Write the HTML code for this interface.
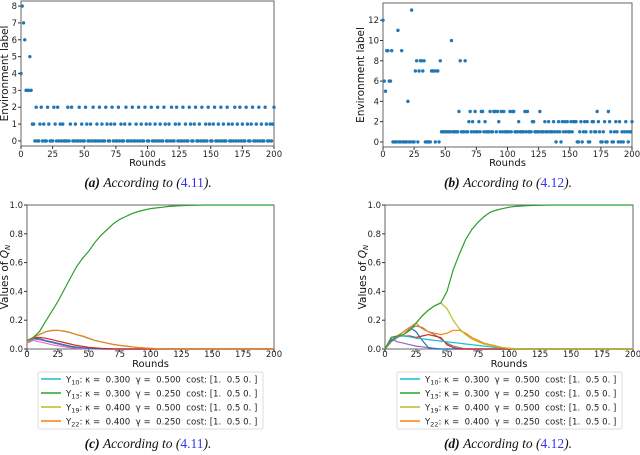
<!DOCTYPE html>
<html><head><meta charset="utf-8"><style>
body{margin:0;background:#fff;}
svg{display:block;font-family:"DejaVu Sans","Liberation Sans",sans-serif;}
.tk{font-size:8.5px;fill:#222;}
.cap{font-family:"Liberation Serif",serif;font-size:13.5px;font-style:italic;}
.lg{font-size:8.6px;fill:#222;white-space:pre;}
</style></head><body>
<svg id="fig" width="640" height="455" viewBox="0 0 640 455"></svg>
<script>
const envA=[4,8,7,6,3,3,3,5,3,1,1,0,2,
0,0,1,2,0,1,0,0,2,1,0,0,0,2,1,0,2,0,1,0,
1,0,0,0,2,0,1,2,0,0,1,0,0,2,0,1,0,0,2,1,
0,0,1,0,2,0,0,1,0,2,0,1,0,0,2,1,0,0,1,2,
0,1,0,0,2,0,1,0,0,1,2,0,0,1,0,2,0,0,1,0,
2,0,1,0,0,2,1,0,0,1,2,0,0,1,0,2,0,1,0,0,
2,1,0,0,1,0,2,0,0,1,2,0,1,0,0,2,0,1,0,0,
2,1,0,0,1,2,0,0,1,0,2,0,0,1,0,2,1,0,0,1,
2,0,0,1,0,2,0,1,0,0,2,1,0,0,1,0,2,0,1,0,
2,0,1,0,0,2,1,0,0,1,2,0,0,1,0,2,0,1,0,0,2,1,0,0,1,0,1,2];
const envB=[12,6,5,9,9,6,6,9,0,0,0,0,11,0,0,9,0,0,0,0,4,0,0,13,0,0,7,8,0,7,8,8,7,8,0,0,0,0,0,7,7,7,0,7,7,0,8,1,1,1,1,1,1,1,1,10,1,1,1,1,1,3,8,1,1,1,8,1,1,2,3,1,2,1,3,
1,1,2,1,3,3,1,2,1,1,1,3,1,1,3,3,1,3,2,1,
3,1,3,1,1,1,1,3,1,3,3,1,1,1,2,1,1,1,1,3,
1,3,1,1,1,2,2,1,1,1,1,3,1,1,1,2,1,1,2,1,
1,1,2,1,0,1,2,1,0,2,1,2,1,2,1,1,2,1,2,2,
2,0,0,1,2,0,1,2,1,2,0,0,1,2,2,1,1,3,2,1,
0,0,1,2,0,0,3,2,1,0,0,1,2,1,0,2,0,1,0,1,2,1,0,1,1,2];
const roundTicks=[0,25,50,75,100,125,150,175,200];
const qTicks=[0,0.2,0.4,0.6,0.8,1.0];
const step=5;
const cGreen=[0.06,0.08,0.12,0.19,0.26,0.33,0.41,0.49,0.57,0.63,0.68,0.74,0.79,0.83,0.87,0.90,0.92,0.94,0.955,0.965,0.975,0.98,0.985,0.99,0.993,0.995,0.997,0.998,0.999,1,1,1,1,1,1,1,1,1,1,1,1];
const cOrange=[0.05,0.08,0.10,0.12,0.13,0.13,0.125,0.115,0.10,0.09,0.075,0.06,0.05,0.04,0.032,0.025,0.02,0.015,0.01,0.007,0.005,0.003,0.002,0.001,0];
const cCyan=[0.05,0.08,0.10,0.12,0.128,0.13,0.123,0.113,0.10,0.088,0.073,0.06,0.05,0.04,0.031,0.025,0.02,0.015,0.01,0.007,0.005,0.003,0.002,0.001,0];
const cRed=[0.05,0.08,0.08,0.075,0.065,0.055,0.045,0.035,0.025,0.018,0.012,0.008,0.005,0.003,0.001,0];
const cBlue=[0.05,0.075,0.07,0.06,0.05,0.04,0.03,0.02,0.013,0.008,0.005,0.003,0.001,0];
const cPink=[0.04,0.06,0.05,0.04,0.03,0.022,0.015,0.01,0.006,0.003,0.001,0];
const cPurple=[0.05,0.07,0.065,0.055,0.045,0.035,0.025,0.017,0.011,0.007,0.004,0.002,0];
const dGreen=[0,0.08,0.09,0.10,0.13,0.18,0.23,0.27,0.30,0.32,0.40,0.55,0.66,0.76,0.83,0.88,0.92,0.95,0.965,0.975,0.985,0.99,0.993,0.995,0.997,0.998,0.999,1,1,1,1,1,1,1,1,1,1,1,1,1,1];
const dYellow=[0,0.08,0.09,0.10,0.13,0.18,0.23,0.27,0.30,0.32,0.28,0.20,0.14,0.10,0.07,0.05,0.035,0.025,0.015,0.01,0.005,0.003,0];
const dOrange=[0,0.08,0.09,0.12,0.15,0.18,0.14,0.12,0.11,0.10,0.11,0.13,0.13,0.11,0.08,0.06,0.04,0.03,0.02,0.01,0.005,0];
const dCyan=[0,0.08,0.09,0.09,0.085,0.075,0.07,0.065,0.06,0.055,0.05,0.045,0.04,0.035,0.03,0.025,0.02,0.015,0.01,0.008,0.005,0.003,0];
const dBlue=[0,0.06,0.09,0.12,0.15,0.12,0.06,0.01,0];
const dRed=[0,0.08,0.09,0.09,0.09,0.08,0.09,0.10,0.09,0.08,0.03,0.01,0];
const dGray=[0,0.05,0.08,0.10,0.14,0.16,0.15,0.12,0.10,0.07,0.04,0.02,0.01,0];
const dPurple=[0,0.07,0.05,0.04,0.03,0.02,0.015,0.01,0.005,0];
const legendKappa=["0.300","0.300","0.400","0.400"];
const legendGamma=["0.500","0.250","0.500","0.250"];
const legendSub=["10","13","19","22"];

const NS="http://www.w3.org/2000/svg";
const svg=document.getElementById('fig');
function mk(tag,attrs,parent){const e=document.createElementNS(NS,tag);for(const k in attrs)e.setAttribute(k,attrs[k]);(parent||svg).appendChild(e);return e;}
function txt(s,attrs,parent){const e=mk('text',attrs,parent);e.textContent=s;return e;}

function axes(name,L,R,T,B,x0,x1,y0,y1){
  const g=mk('g',{});
  
  
  const sx=v=>L+(v-x0)/(x1-x0)*(R-L);
  const sy=v=>B-(v-y0)/(y1-y0)*(B-T);
  return {g,sx,sy,L,R,T,B};
}
function frame(a){
  const r=mk('rect',{x:a.L,y:a.T,width:a.R-a.L,height:a.B-a.T,fill:'none',stroke:'#666','stroke-width':1},a.g);
  
}
function xticks(a,ty){
  roundTicks.forEach(v=>{
    mk('line',{x1:a.sx(v),x2:a.sx(v),y1:a.B,y2:a.B+3,stroke:'#333'},a.g);
    const t=txt(String(v),{x:a.sx(v),y:ty,'text-anchor':'middle',class:'tk'},a.g);
    
  });
}
function yticks(a,vals,fmt){
  vals.forEach(v=>{
    mk('line',{x1:a.L-3,x2:a.L,y1:a.sy(v),y2:a.sy(v),stroke:'#333'},a.g);
    const t=txt(fmt(v),{x:a.L-4,y:a.sy(v)+3,'text-anchor':'end',class:'tk'},a.g);
    
  });
}
function labels(a,xl,ylx,yl,isQ){
  const t=txt('Rounds',{x:(a.L+a.R)/2,y:xl,'text-anchor':'middle','font-size':'10px',fill:'#111'},a.g);
  
  const cy=(a.T+a.B)/2;
  const y=txt('',{x:ylx,y:cy,'text-anchor':'middle','font-size':'10.5px',fill:'#111',transform:`rotate(-90 ${ylx} ${cy})`},a.g);
  
  if(isQ){y.textContent='Values of ';const ts=mk('tspan',{'font-style':'italic'},y);ts.textContent='Q';const sb=mk('tspan',{'font-size':'7px','font-style':'italic',dy:2},y);sb.textContent='N';}
  else y.textContent=yl;
}
function scatter(a,data,name){
  data.forEach((v,i)=>{
    const c=mk('circle',{cx:a.sx(i),cy:a.sy(v),r:1.7,fill:'#1f77b4'},a.g);
    
  });
}
function line(a,data,color,name){
  const pts=[];
  for(let i=0;i<41;i++){const v=i<data.length?data[i]:data[data.length-1];pts.push(a.sx(i*step).toFixed(1)+','+a.sy(v).toFixed(1));}
  const p=mk('polyline',{points:pts.join(' '),fill:'none',stroke:color,'stroke-width':1.2},a.g);
  
}
function legend(x,y,w,name){
  const g=mk('g',{});
  
  mk('rect',{x:x,y:y,width:w,height:57,rx:2,fill:'#fff',stroke:'#ddd'},g);
  const cols=['#17becf','#2ca02c','#bcbd22','#ff7f0e'];
  for(let i=0;i<4;i++){
    const yy=y+7+i*14;
    const l=mk('line',{x1:x+3,x2:x+23,y1:yy,y2:yy,stroke:cols[i],'stroke-width':1.5},g);
    
    const t=txt('',{x:x+28,y:yy+3.5,class:'lg'},g);
    
    const a=mk('tspan',{},t);a.textContent='Y';
    const s=mk('tspan',{'font-size':'6.5px',dy:2},t);s.textContent=legendSub[i];
    const b=mk('tspan',{dy:-2},t);b.textContent=`: κ =  ${legendKappa[i]}  γ =  ${legendGamma[i]}  cost: [1.  0.5 0. ]`;
  }
}
function caption(cx,y,lab,ref,name){
  const t=txt('',{x:cx,y:y,'text-anchor':'middle',class:'cap',fill:'#111'});
  
  const b=mk('tspan',{'font-weight':'bold'},t);b.textContent=lab+' ';
  const m=mk('tspan',{},t);m.textContent='According to (';
  const r=mk('tspan',{fill:'#3333ee','font-style':'normal'},t);r.textContent=ref;
  const e=mk('tspan',{},t);e.textContent=').';
}

const A=axes('panel-a',21,274,1,146,0,200,-0.3,8.3);
frame(A);xticks(A,157);yticks(A,[0,1,2,3,4,5,6,7,8],v=>String(v));
labels(A,166,8,'Environment label',false);scatter(A,envA,'env-point');
caption(148,187,'(a)','4.11','caption-a');
const Bp=axes('panel-b',383,632,3,147,0,200,-0.5,13.7);
frame(Bp);xticks(Bp,157);yticks(Bp,[0,2,4,6,8,10,12],v=>String(v));
labels(Bp,166,364,'Environment label',false);scatter(Bp,envB,'env-point');
caption(508,187,'(b)','4.12','caption-b');
const C=axes('panel-c',27,274,205,349,0,200,0,1);
frame(C);xticks(C,357);yticks(C,qTicks,v=>v.toFixed(1));
labels(C,367,8,'',true);
line(C,cPink,'#e377c2','line-pink');line(C,cPurple,'#9467bd','line-purple');line(C,cBlue,'#1f77b4','line-blue');
line(C,cRed,'#d62728','line-red');line(C,cCyan,'#17becf','line-y10');line(C,cOrange,'#ff7f0e','line-y22');line(C,cGreen,'#2ca02c','line-y13');
legend(38,372,225,'legend-c');
caption(148,448,'(c)','4.11','caption-c');
const D=axes('panel-d',385,633,205,349,0,200,0,1);
frame(D);xticks(D,357);yticks(D,qTicks,v=>v.toFixed(1));
labels(D,367,366,'',true);
line(D,dPurple,'#9467bd','line-purple');line(D,dBlue,'#1f77b4','line-blue');line(D,dGray,'#7f7f7f','line-gray');line(D,dRed,'#d62728','line-red');
line(D,dCyan,'#17becf','line-y10');line(D,dOrange,'#ff7f0e','line-y22');line(D,dYellow,'#bcbd22','line-y19');line(D,dGreen,'#2ca02c','line-y13');
legend(397,372,225,'legend-d');
caption(508,448,'(d)','4.12','caption-d');
</script>
</body></html>
